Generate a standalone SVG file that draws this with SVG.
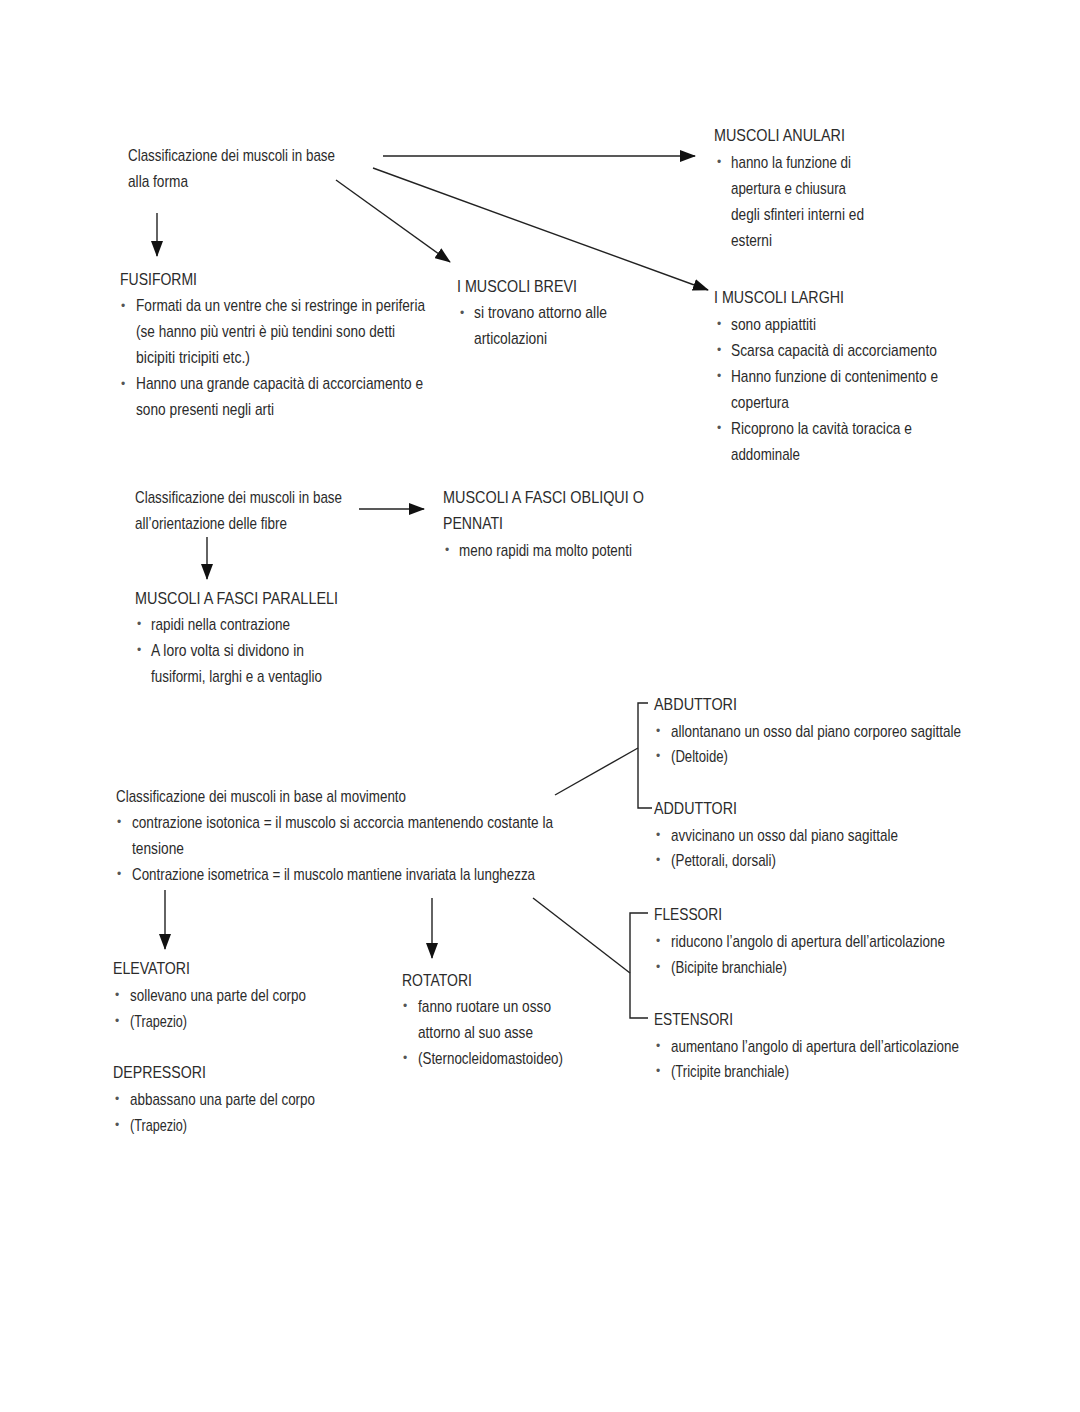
<svg xmlns="http://www.w3.org/2000/svg" width="1080" height="1412" viewBox="0 0 1080 1412">
<style>
text{font-family:"Liberation Sans","DejaVu Sans",sans-serif;font-size:17px;fill:#2b2b2b}
.b{fill:#555;font-size:12px;transform:translate(2px,-1px)}
.c line,.c path{stroke:#222;stroke-width:1.4;fill:none}
</style>
<defs>
<marker id="ah" viewBox="0 0 16 12" refX="15" refY="6" markerWidth="16" markerHeight="12" markerUnits="userSpaceOnUse" orient="auto">
<path d="M0,0 L16,6 L0,12 Z" fill="#111"/>
</marker>
</defs>
<rect width="1080" height="1412" fill="#fff"/>
<g class="c" id="connectors">
<line x1="383" y1="156" x2="695" y2="156" marker-end="url(#ah)"/>
<line x1="336" y1="180" x2="450" y2="262" marker-end="url(#ah)"/>
<line x1="373" y1="168" x2="708" y2="290" marker-end="url(#ah)"/>
<line x1="157" y1="213" x2="157" y2="256" marker-end="url(#ah)"/>
<line x1="359" y1="509" x2="424" y2="509" marker-end="url(#ah)"/>
<line x1="207" y1="537" x2="207" y2="579" marker-end="url(#ah)"/>
<line x1="555" y1="795" x2="638" y2="748"/>
<path d="M648,703 H638 V808 H652"/>
<line x1="533" y1="898" x2="630" y2="973"/>
<path d="M648,913 H630 V1018 H648"/>
<line x1="165" y1="890" x2="165" y2="949" marker-end="url(#ah)"/>
<line x1="432" y1="898" x2="432" y2="958" marker-end="url(#ah)"/>
</g>
<g id="forma">
<text x="128" y="161" textLength="207" lengthAdjust="spacingAndGlyphs">Classificazione dei muscoli in base</text>
<text x="128" y="187" textLength="60" lengthAdjust="spacingAndGlyphs">alla forma</text>
</g>
<g id="anulari">
<text x="714" y="141" textLength="131" lengthAdjust="spacingAndGlyphs">MUSCOLI ANULARI</text>
<text class="b" x="715" y="167">•</text>
<text x="731" y="168" textLength="120" lengthAdjust="spacingAndGlyphs">hanno la funzione di</text>
<text x="731" y="194" textLength="115" lengthAdjust="spacingAndGlyphs">apertura e chiusura</text>
<text x="731" y="220" textLength="133" lengthAdjust="spacingAndGlyphs">degli sfinteri interni ed</text>
<text x="731" y="246" textLength="41" lengthAdjust="spacingAndGlyphs">esterni</text>
</g>
<g id="fusiformi">
<text x="120" y="285" textLength="77" lengthAdjust="spacingAndGlyphs">FUSIFORMI</text>
<text class="b" x="119" y="311">•</text>
<text x="136" y="311" textLength="289" lengthAdjust="spacingAndGlyphs">Formati da un ventre che si restringe in periferia</text>
<text x="136" y="337" textLength="259" lengthAdjust="spacingAndGlyphs">(se hanno più ventri è più tendini sono detti</text>
<text x="136" y="363" textLength="114" lengthAdjust="spacingAndGlyphs">bicipiti tricipiti etc.)</text>
<text class="b" x="119" y="389">•</text>
<text x="136" y="389" textLength="287" lengthAdjust="spacingAndGlyphs">Hanno una grande capacità di accorciamento e</text>
<text x="136" y="415" textLength="138" lengthAdjust="spacingAndGlyphs">sono presenti negli arti</text>
</g>
<g id="brevi">
<text x="457" y="292" textLength="120" lengthAdjust="spacingAndGlyphs">I MUSCOLI BREVI</text>
<text class="b" x="458" y="318">•</text>
<text x="474" y="318" textLength="133" lengthAdjust="spacingAndGlyphs">si trovano attorno alle</text>
<text x="474" y="344" textLength="73" lengthAdjust="spacingAndGlyphs">articolazioni</text>
</g>
<g id="larghi">
<text x="714" y="303" textLength="130" lengthAdjust="spacingAndGlyphs">I MUSCOLI LARGHI</text>
<text class="b" x="715" y="329">•</text>
<text x="731" y="330" textLength="85" lengthAdjust="spacingAndGlyphs">sono appiattiti</text>
<text class="b" x="715" y="355">•</text>
<text x="731" y="356" textLength="206" lengthAdjust="spacingAndGlyphs">Scarsa capacità di accorciamento</text>
<text class="b" x="715" y="381">•</text>
<text x="731" y="382" textLength="207" lengthAdjust="spacingAndGlyphs">Hanno funzione di contenimento e</text>
<text x="731" y="408" textLength="58" lengthAdjust="spacingAndGlyphs">copertura</text>
<text class="b" x="715" y="433">•</text>
<text x="731" y="434" textLength="181" lengthAdjust="spacingAndGlyphs">Ricoprono la cavità toracica e</text>
<text x="731" y="460" textLength="69" lengthAdjust="spacingAndGlyphs">addominale</text>
</g>
<g id="fibre">
<text x="135" y="503" textLength="207" lengthAdjust="spacingAndGlyphs">Classificazione dei muscoli in base</text>
<text x="135" y="529" textLength="152" lengthAdjust="spacingAndGlyphs">all’orientazione delle fibre</text>
</g>
<g id="obliqui">
<text x="443" y="503" textLength="201" lengthAdjust="spacingAndGlyphs">MUSCOLI A FASCI OBLIQUI O</text>
<text x="443" y="529" textLength="60" lengthAdjust="spacingAndGlyphs">PENNATI</text>
<text class="b" x="443" y="555">•</text>
<text x="459" y="556" textLength="173" lengthAdjust="spacingAndGlyphs">meno rapidi ma molto potenti</text>
</g>
<g id="paralleli">
<text x="135" y="604" textLength="203" lengthAdjust="spacingAndGlyphs">MUSCOLI A FASCI PARALLELI</text>
<text class="b" x="135" y="629">•</text>
<text x="151" y="630" textLength="139" lengthAdjust="spacingAndGlyphs">rapidi nella contrazione</text>
<text class="b" x="135" y="655">•</text>
<text x="151" y="656" textLength="153" lengthAdjust="spacingAndGlyphs">A loro volta si dividono in</text>
<text x="151" y="682" textLength="171" lengthAdjust="spacingAndGlyphs">fusiformi, larghi e a ventaglio</text>
</g>
<g id="movimento">
<text x="116" y="802" textLength="290" lengthAdjust="spacingAndGlyphs">Classificazione dei muscoli in base al movimento</text>
<text class="b" x="115" y="827">•</text>
<text x="132" y="828" textLength="421" lengthAdjust="spacingAndGlyphs">contrazione isotonica = il muscolo si accorcia mantenendo costante la</text>
<text x="132" y="854" textLength="52" lengthAdjust="spacingAndGlyphs">tensione</text>
<text class="b" x="115" y="879">•</text>
<text x="132" y="880" textLength="403" lengthAdjust="spacingAndGlyphs">Contrazione isometrica = il muscolo mantiene invariata la lunghezza</text>
</g>
<g id="abduttori">
<text x="654" y="710" textLength="83" lengthAdjust="spacingAndGlyphs">ABDUTTORI</text>
<text class="b" x="654" y="736">•</text>
<text x="671" y="737" textLength="290" lengthAdjust="spacingAndGlyphs">allontanano un osso dal piano corporeo sagittale</text>
<text class="b" x="654" y="761">•</text>
<text x="671" y="762" textLength="57" lengthAdjust="spacingAndGlyphs">(Deltoide)</text>
</g>
<g id="adduttori">
<text x="654" y="814" textLength="83" lengthAdjust="spacingAndGlyphs">ADDUTTORI</text>
<text class="b" x="654" y="840">•</text>
<text x="671" y="841" textLength="227" lengthAdjust="spacingAndGlyphs">avvicinano un osso dal piano sagittale</text>
<text class="b" x="654" y="865">•</text>
<text x="671" y="866" textLength="105" lengthAdjust="spacingAndGlyphs">(Pettorali, dorsali)</text>
</g>
<g id="flessori">
<text x="654" y="920" textLength="68" lengthAdjust="spacingAndGlyphs">FLESSORI</text>
<text class="b" x="654" y="946">•</text>
<text x="671" y="947" textLength="274" lengthAdjust="spacingAndGlyphs">riducono l’angolo di apertura dell’articolazione</text>
<text class="b" x="654" y="972">•</text>
<text x="671" y="973" textLength="116" lengthAdjust="spacingAndGlyphs">(Bicipite branchiale)</text>
</g>
<g id="estensori">
<text x="654" y="1025" textLength="79" lengthAdjust="spacingAndGlyphs">ESTENSORI</text>
<text class="b" x="654" y="1051">•</text>
<text x="671" y="1052" textLength="288" lengthAdjust="spacingAndGlyphs">aumentano l’angolo di apertura dell’articolazione</text>
<text class="b" x="654" y="1076">•</text>
<text x="671" y="1077" textLength="118" lengthAdjust="spacingAndGlyphs">(Tricipite branchiale)</text>
</g>
<g id="elevatori">
<text x="113" y="974" textLength="77" lengthAdjust="spacingAndGlyphs">ELEVATORI</text>
<text class="b" x="113" y="1000">•</text>
<text x="130" y="1001" textLength="176" lengthAdjust="spacingAndGlyphs">sollevano una parte del corpo</text>
<text class="b" x="113" y="1026">•</text>
<text x="130" y="1027" textLength="57" lengthAdjust="spacingAndGlyphs">(Trapezio)</text>
</g>
<g id="depressori">
<text x="113" y="1078" textLength="93" lengthAdjust="spacingAndGlyphs">DEPRESSORI</text>
<text class="b" x="113" y="1104">•</text>
<text x="130" y="1105" textLength="185" lengthAdjust="spacingAndGlyphs">abbassano una parte del corpo</text>
<text class="b" x="113" y="1130">•</text>
<text x="130" y="1131" textLength="57" lengthAdjust="spacingAndGlyphs">(Trapezio)</text>
</g>
<g id="rotatori">
<text x="402" y="986" textLength="70" lengthAdjust="spacingAndGlyphs">ROTATORI</text>
<text class="b" x="401" y="1011">•</text>
<text x="418" y="1012" textLength="133" lengthAdjust="spacingAndGlyphs">fanno ruotare un osso</text>
<text x="418" y="1038" textLength="115" lengthAdjust="spacingAndGlyphs">attorno al suo asse</text>
<text class="b" x="401" y="1063">•</text>
<text x="418" y="1064" textLength="145" lengthAdjust="spacingAndGlyphs">(Sternocleidomastoideo)</text>
</g>
</svg>
